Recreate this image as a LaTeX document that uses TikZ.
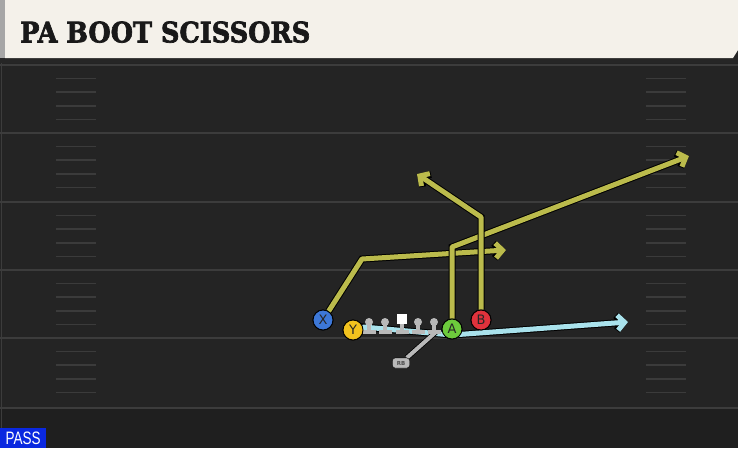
\documentclass[tikz,border=0pt]{standalone}
\usepackage{fontspec}
\usepackage{graphicx}
\usetikzlibrary{arrows.meta}
\newfontfamily\titlefont[FakeBold=2.5]{DejaVu Serif}
\newfontfamily\labelfont{DejaVu Sans}
\newfontfamily\passfont[FakeStretch=0.75]{Liberation Sans}
\definecolor{fieldbg}{HTML}{242424}
\definecolor{footbg}{HTML}{1F1F1F}
\definecolor{yardline}{HTML}{3C3C3C}
\definecolor{hashline}{HTML}{3B3B3B}
\definecolor{hdrbg}{HTML}{F4F1EA}
\definecolor{routeyel}{HTML}{BBBB4C}
\definecolor{routeblue}{HTML}{A9E2EC}
\definecolor{linegray}{HTML}{B9B9B9}
\definecolor{xblue}{HTML}{3D78D8}
\definecolor{yyellow}{HTML}{F2C21E}
\definecolor{agreen}{HTML}{6DCB3C}
\definecolor{bred}{HTML}{E0323C}
\definecolor{passblue}{HTML}{0A28E0}

\begin{document}
\begin{tikzpicture}
  [x=1pt,y=-1pt,
    route/.style={line width=5pt,line join=round,draw=routeyel,
      -{Straight Barb[length=7pt,width=15pt]},
    preaction={draw=black,line width=7pt}},
    block/.style={line width=4pt,line join=round,draw=linegray,
    preaction={draw=black,line width=5.5pt}},
    player/.style={circle,draw=black,line width=0.9pt,minimum size=20pt,
    inner sep=0pt,font=\labelfont\fontsize{13}{13}\selectfont,text=black!85},
    rbtag/.style={draw=black,fill=linegray,rounded corners=2.5pt,minimum width=17pt,
      minimum height=10pt,inner sep=0pt,text=black!70,
    font=\labelfont\bfseries\fontsize{5.5}{5.5}\selectfont},
    lineman/.style={circle,fill=linegray,minimum size=8pt,inner sep=0pt},
  ]
  \useasboundingbox (0,0) rectangle (738,448);
  % field
  \fill[fieldbg] (0,0) rectangle (738,448);
  \fill[footbg] (0,408) rectangle (738,448);
  \draw[yardline,line width=0.6pt] (1,63) -- (1,448);
  \foreach \y in {65,133,202,270,338,408}
    \draw[yardline,line width=1.8pt] (0,\y) -- (738,\y);
  \foreach \y in {65,133,202,270,338}
    \foreach \k in {1,...,4} {
      \draw[hashline,line width=1.6pt] (56,\y+\k*13.6) -- (96,\y+\k*13.6);
      \draw[hashline,line width=1.6pt] (646,\y+\k*13.6) -- (686,\y+\k*13.6);
    }
  % header
  \fill[black!85] (0,57) rectangle (738,63);
  \fill[hdrbg] (5,0) -- (738,0) -- (738,50) -- (733,58) -- (5,58) -- cycle;
  \fill[black!35] (0,0) rectangle (5,58);
  \node[anchor=south west,inner sep=0pt,text=black!90] (title) at (20,43)
    {\resizebox{290pt}{21pt}{\titlefont\bfseries PA BOOT SCISSORS}};
  % players
  \node[player,fill=xblue] (X) at (323,320) {X};
  \node[player,fill=yyellow] (Y) at (353,330) {Y};
  \node[player,fill=agreen] (A) at (452,329) {A};
  \node[player,fill=bred] (B) at (481,320) {B};
  \node[rbtag] (RB) at (401,363) {RB};
  \coordinate (bend) at (452,335);
  \coordinate (ytip) at (628,322);
  \coordinate (rbend) at (437,331);
  \coordinate (xcut) at (362,259);
  \coordinate (xtip) at (506,250);
  \coordinate (acut) at (452,247);
  \coordinate (atip) at (689,156);
  \coordinate (bcut) at (481,217);
  \coordinate (btip) at (417,174);
  % routes
  \draw[route,draw=routeblue] (Y.east) -- ([yshift=3pt]Y.east) -- (bend) -- (ytip);
  \draw[block] (RB) -- (rbend);
  \draw[route] (X) -- (xcut) -- (xtip);
  \draw[route] (A) -- (acut) -- (atip);
  \draw[route] (B) -- (bcut) -- (btip);
  % line
  \foreach \x/\n in {369/LT,385/LG,418/RG,434/RT} {
    \fill[linegray] (\x-2,322) rectangle (\x+2,331);
    \fill[linegray] (\x-6.5,329.5) rectangle (\x+6.5,334);
    \node[lineman] (\n) at (\x,322) {};
  }
  \fill[linegray] (400,320) rectangle (404,331);
  \fill[linegray] (395.5,329.5) rectangle (408.5,334);
  \node[fill=white,minimum width=10pt,minimum height=10pt,inner sep=0pt] (C) at (402,318.5) {};
  % players on top
  \node[player,fill=xblue] at (X) {X};
  \node[player,fill=yyellow] at (Y) {Y};
  \node[player,fill=agreen] at (A) {A};
  \node[player,fill=bred] at (B) {B};
  \node[rbtag] at (RB) {RB};
  % tag
  \node[anchor=south west,fill=passblue,text=white,inner sep=0pt,
    minimum width=46pt,minimum height=20pt,
    font=\passfont\fontsize{18}{18}\selectfont] (pass) at (0,448) {PASS};
\end{tikzpicture}
\end{document}
